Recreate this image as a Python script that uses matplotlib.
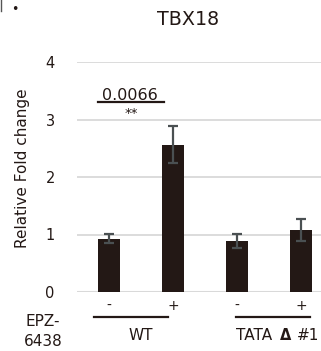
import matplotlib
matplotlib.use("Agg")
import matplotlib.pyplot as plt
from matplotlib.lines import Line2D

plt.rcParams['font.family'] = ['DejaVu Sans']

categories = ["WT -", "WT +", "TATA -", "TATA +"]
treatment_labels = ["-", "+", "-", "+"]
values = [0.93, 2.56, 0.89, 1.08]
errors = [0.08, 0.32, 0.12, 0.19]
group_labels = ["WT", "TATA", "\u0394", "#1"]
yticks = [0, 1, 2, 3, 4]
pvalue_text = "0.0066"
sig_text = "**"
title = "TBX18"

W, H = 321, 351
dpi = 100
fig = plt.figure(figsize=(W / dpi, H / dpi), dpi=dpi)
fig.patch.set_facecolor("white")

def fx(px):
    return px / W

def fy(py):
    return 1 - py / H

# axes: x from 77 px to 333 px, y 0 at 292 px, 4 at 62 px
ax = fig.add_axes([fx(77), fy(292), fx(333) - fx(77), fy(62) - fy(292)])
x = list(range(len(categories)))
txt = "#231815"
ax.bar(x, values, width=0.33, color="#231815", zorder=3)
ax.errorbar(x, values, yerr=errors, fmt="none", ecolor="#4a5052", elinewidth=1.6,
            capsize=3.8, capthick=1.6, zorder=4)
ax.set_xlim(-0.5, 3.5)
ax.set_ylim(0, 4)
ax.set_yticks(yticks)
ax.set_yticklabels([str(t) for t in yticks], fontsize=10.5, color=txt)
ax.tick_params(axis="y", length=0, pad=16)
ax.set_xticks([])
for s in ax.spines.values():
    s.set_visible(False)
ax.grid(axis="y", color="#d9d9d9", linewidth=1.3, zorder=0)
ax.set_axisbelow(True)
ax.axhline(0, color="#d9d9d9", linewidth=1.5, zorder=1)
ax.set_ylabel("Relative Fold change", fontsize=11, color=txt)
ax.yaxis.set_label_coords(-0.185, 0.539)

# significance bracket
ax.plot([-0.17, 0.86], [3.31, 3.31], color=txt, lw=1.6, clip_on=False, zorder=5)
ax.text(0.33, 3.285, pvalue_text, ha="center", va="bottom", fontsize=11.5, color=txt)
ax.text(0.35, 3.22, sig_text, ha="center", va="top", fontsize=9.5, color=txt)

# treatment labels
for xi, lab in zip(x, treatment_labels):
    ax.text(xi, -0.12, lab, ha="center", va="top", fontsize=10, color=txt,
            transform=ax.transData)

# group lines and labels
ax.plot([-0.23, 0.92], [-0.43, -0.43], color=txt, lw=1.6, clip_on=False)
ax.plot([1.98, 3.14], [-0.43, -0.43], color=txt, lw=1.6, clip_on=False)
fig.text(fx(141), fy(336), group_labels[0], ha="center", va="center", fontsize=11, color=txt)
fig.text(fx(236), fy(336), group_labels[1], ha="left", va="center", fontsize=11, color=txt)
fig.text(fx(286), fy(336), group_labels[2], ha="center", va="center", fontsize=10.5,
         fontweight="bold", color=txt)
fig.text(fx(297), fy(336), group_labels[3], ha="left", va="center", fontsize=11, color=txt)

fig.text(fx(43), fy(321), "EPZ-", ha="center", va="center", fontsize=11, color=txt)
fig.text(fx(43), fy(342), "6438", ha="center", va="center", fontsize=11, color=txt)

fig.text(fx(188), fy(19.5), title, ha="center", va="center", fontsize=13.8, color=txt)

# cropping artifacts at top-left
fig.add_artist(Line2D([fx(0.5), fx(0.5)], [fy(0), fy(11)], color="#555555", lw=1))
fig.text(fx(15), fy(9), "\u2022", ha="center", va="center", fontsize=9, color=txt)

fig.savefig("out.png", dpi=dpi, facecolor="white")
